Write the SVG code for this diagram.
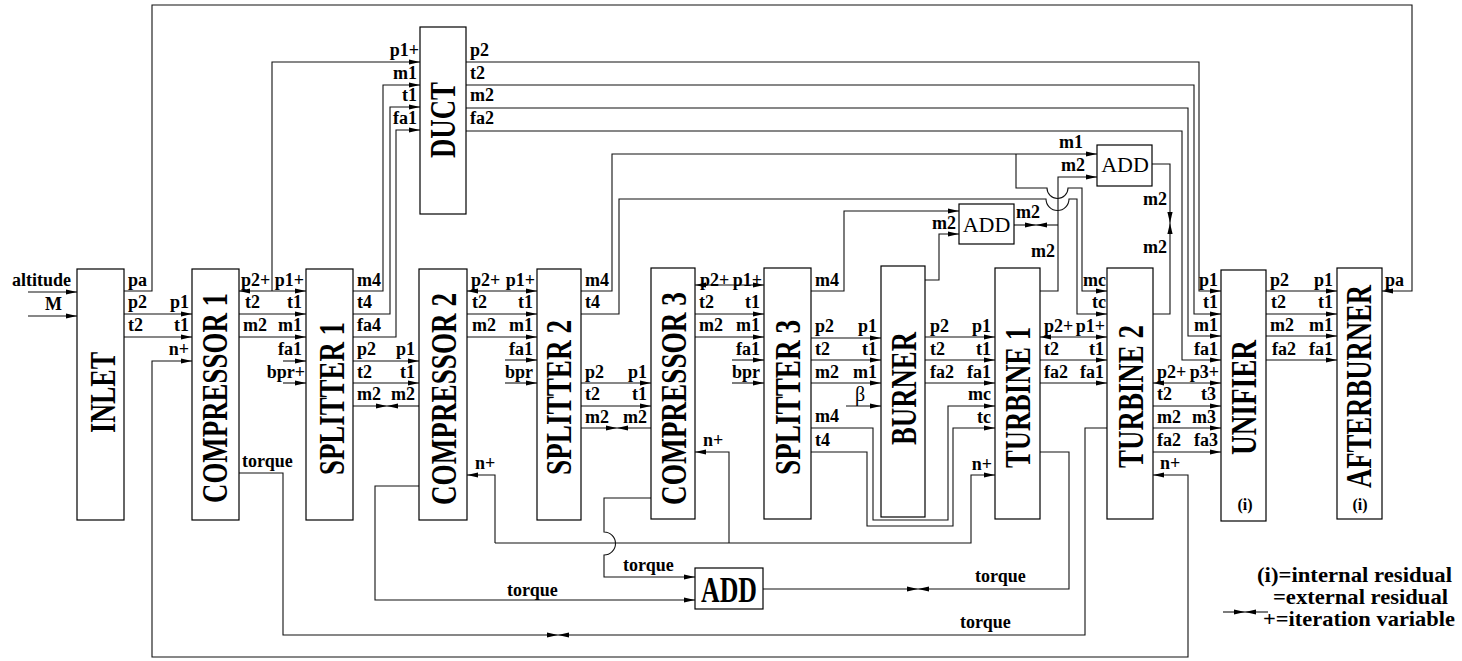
<svg xmlns="http://www.w3.org/2000/svg" width="1462" height="661" viewBox="0 0 1462 661">
<style>
.box{fill:#fff;stroke:#000;stroke-width:1.2}
.ln{fill:none;stroke:#111;stroke-width:1.1}
.a{marker-end:url(#ah)}
.b{marker-start:url(#ah);marker-end:url(#ah)}
text{font-family:"Liberation Serif","Times New Roman",serif;fill:#000}
.pl{font-weight:bold;font-size:18px}
.r{text-anchor:end}
.nl{font-weight:bold;font-size:36px;text-anchor:middle}
.add{font-size:22px;text-anchor:middle}
.leg{font-weight:bold;font-size:21px}
.ii{font-weight:bold;font-size:16px;text-anchor:middle}
</style>
<defs>
<marker id="ah" markerUnits="userSpaceOnUse" markerWidth="11" markerHeight="6" refX="11" refY="3" orient="auto-start-reverse"><path d="M0,0.4L11,3L0,5.6z" fill="#000"/></marker>
</defs>
<rect width="1462" height="661" fill="#fff"/>

<g id="connectors">
<path class="ln a" d="M28,292H77"/>
<path class="ln a" d="M28,316H77"/>
<path class="ln a" d="M124,291H152V5H1412V291H1382"/>
<path class="ln a" d="M124,314H192"/>
<path class="ln a" d="M124,337H192"/>
<path class="ln b" d="M192,361H152V657H1188V475H1153"/>
<path class="ln b" d="M239,291H306"/>
<path class="ln a" d="M272,291V62H420"/>
<path class="ln a" d="M239,314H306"/>
<path class="ln a" d="M239,337H306"/>
<path class="ln a" d="M283,361H306"/>
<path class="ln a" d="M283,383H306"/>
<path class="ln a" d="M239,473H283V635H558"/>
<path class="ln a" d="M1107,428H1085V635H558"/>
<path class="ln a" d="M353,291H383V85H420"/>
<path class="ln a" d="M353,314H390V107H420"/>
<path class="ln a" d="M353,337H396V130H420"/>
<path class="ln a" d="M353,361H419"/>
<path class="ln a" d="M353,383H419"/>
<path class="ln a" d="M353,406H387"/>
<path class="ln a" d="M419,406H387"/>
<path class="ln a" d="M466,62H1199V291H1221"/>
<path class="ln a" d="M466,85H1194V314H1221"/>
<path class="ln a" d="M466,108H1188V336H1221"/>
<path class="ln a" d="M466,131H1182V360H1221"/>
<path class="ln b" d="M467,291H537"/>
<path class="ln a" d="M467,314H537"/>
<path class="ln a" d="M467,337H537"/>
<path class="ln a" d="M505,360H537"/>
<path class="ln a" d="M505,383H537"/>
<path class="ln a" d="M419,486H375V600H695"/>
<path class="ln a" d="M495,543V475H467"/>
<path class="ln a" d="M495,543H971V475H995"/>
<path class="ln a" d="M729,543V452H695"/>
<path class="ln a" d="M581,291H612V154H1097"/>
<path class="ln a" d="M1016,154V188H1047A10.5,10.5 0 0 0 1068,188H1082V291H1107"/>
<path class="ln a" d="M581,314H619V199H1046A11.5,11.5 0 0 0 1069,199H1077V314H1107"/>
<path class="ln a" d="M581,383H651"/>
<path class="ln a" d="M581,406H651"/>
<path class="ln a" d="M581,428H617"/>
<path class="ln a" d="M651,428H617"/>
<path class="ln b" d="M695,285H764"/>
<path class="ln a" d="M695,314H764"/>
<path class="ln a" d="M695,337H764"/>
<path class="ln a" d="M732,360H764"/>
<path class="ln a" d="M732,383H764"/>
<path class="ln a" d="M651,498H604V532A11.5,11.5 0 0 1 604,555V577H695"/>
<path class="ln a" d="M811,291H844V211H959"/>
<path class="ln a" d="M811,338H881"/>
<path class="ln a" d="M811,360H881"/>
<path class="ln a" d="M811,383H881"/>
<path class="ln a" d="M846,406H881"/>
<path class="ln a" d="M811,428H873V520H948V406H995"/>
<path class="ln a" d="M811,452H867V526H953V428H995"/>
<path class="ln a" d="M925,280H939V234H959"/>
<path class="ln a" d="M925,337H995"/>
<path class="ln a" d="M925,360H995"/>
<path class="ln a" d="M925,383H995"/>
<path class="ln a" d="M1014,225H1036"/>
<path class="ln a" d="M1058,225H1036"/>
<path class="ln a" d="M1040,291H1058V177H1097"/>
<path class="ln b" d="M1040,337H1107"/>
<path class="ln a" d="M1040,360H1107"/>
<path class="ln a" d="M1040,383H1107"/>
<path class="ln a" d="M1040,452H1069V589H918"/>
<path class="ln a" d="M763,589H918"/>
<path class="ln a" d="M1152,164H1170V223"/>
<path class="ln a" d="M1153,314H1170V223"/>
<path class="ln b" d="M1153,383H1221"/>
<path class="ln a" d="M1153,406H1221"/>
<path class="ln a" d="M1153,428H1221"/>
<path class="ln a" d="M1153,452H1221"/>
<path class="ln a" d="M1266,291H1337"/>
<path class="ln a" d="M1266,314H1337"/>
<path class="ln a" d="M1266,336H1337"/>
<path class="ln a" d="M1266,360H1337"/>
</g>

<g id="inlet"><rect class="box" x="77" y="269" width="47" height="251"/><text class="nl" transform="translate(115,392.5) rotate(-90)" textLength="81" lengthAdjust="spacingAndGlyphs">INLET</text></g>
<g id="compressor1"><rect class="box" x="192" y="269" width="47" height="251"/><text class="nl" transform="translate(227,398) rotate(-90)" textLength="210" lengthAdjust="spacingAndGlyphs">COMPRESSOR 1</text></g>
<g id="splitter1"><rect class="box" x="306" y="269" width="47" height="251"/><text class="nl" transform="translate(344,398.5) rotate(-90)" textLength="153" lengthAdjust="spacingAndGlyphs">SPLITTER 1</text></g>
<g id="compressor2"><rect class="box" x="419" y="269" width="48" height="251"/><text class="nl" transform="translate(456,399) rotate(-90)" textLength="212" lengthAdjust="spacingAndGlyphs">COMPRESSOR 2</text></g>
<g id="splitter2"><rect class="box" x="537" y="269" width="44" height="251"/><text class="nl" transform="translate(571,397.5) rotate(-90)" textLength="155" lengthAdjust="spacingAndGlyphs">SPLITTER 2</text></g>
<g id="compressor3"><rect class="box" x="651" y="268" width="44" height="251"/><text class="nl" transform="translate(686,398.5) rotate(-90)" textLength="213" lengthAdjust="spacingAndGlyphs">COMPRESSOR 3</text></g>
<g id="splitter3"><rect class="box" x="764" y="268" width="47" height="251"/><text class="nl" transform="translate(800,397.5) rotate(-90)" textLength="155" lengthAdjust="spacingAndGlyphs">SPLITTER 3</text></g>
<g id="burner"><rect class="box" x="881" y="266" width="44" height="251"/><text class="nl" transform="translate(916,388.5) rotate(-90)" textLength="113" lengthAdjust="spacingAndGlyphs">BURNER</text></g>
<g id="turbine1"><rect class="box" x="995" y="268" width="45" height="251"/><text class="nl" transform="translate(1030,397.5) rotate(-90)" textLength="141" lengthAdjust="spacingAndGlyphs">TURBINE 1</text></g>
<g id="turbine2"><rect class="box" x="1107" y="268" width="46" height="251"/><text class="nl" transform="translate(1143,396.5) rotate(-90)" textLength="143" lengthAdjust="spacingAndGlyphs">TURBINE 2</text></g>
<g id="unifier"><rect class="box" x="1221" y="270" width="45" height="251"/><text class="nl" transform="translate(1256,397.5) rotate(-90)" textLength="115" lengthAdjust="spacingAndGlyphs">UNIFIER</text><text class="ii" x="1245" y="510">(i)</text></g>
<g id="afterburner"><rect class="box" x="1337" y="268" width="45" height="251"/><text class="nl" transform="translate(1371,386.5) rotate(-90)" textLength="203" lengthAdjust="spacingAndGlyphs">AFTERBURNER</text><text class="ii" x="1360" y="510">(i)</text></g>
<g id="duct"><rect class="box" x="420" y="27" width="46" height="187"/><text class="nl" transform="translate(455,120) rotate(-90)" textLength="76" lengthAdjust="spacingAndGlyphs">DUCT</text></g>
<g id="add1"><rect class="box" x="959" y="204" width="55" height="40"/><text class="add" x="986.5" y="232">ADD</text></g>
<g id="add2"><rect class="box" x="1097" y="145" width="55" height="41"/><text class="add" x="1125" y="172">ADD</text></g>
<g id="add3"><rect class="box" x="695" y="568" width="68" height="41"/><text class="nl" x="729" y="602" textLength="56" lengthAdjust="spacingAndGlyphs">ADD</text></g>

<g id="labels">
<text class="pl" x="12" y="286">altitude</text>
<text class="pl" x="45" y="310">M</text>
<text class="pl" x="128" y="286">pa</text>
<text class="pl" x="128" y="308">p2</text>
<text class="pl" x="128" y="331">t2</text>
<text class="pl r" x="189" y="308">p1</text>
<text class="pl r" x="189" y="331">t1</text>
<text class="pl r" x="189" y="355">n+</text>

<text class="pl" x="241" y="286">p2+</text>
<text class="pl r" x="304" y="286">p1+</text>
<text class="pl" x="245" y="308">t2</text>
<text class="pl r" x="302" y="308">t1</text>
<text class="pl" x="243" y="331">m2</text>
<text class="pl r" x="302" y="331">m1</text>
<text class="pl r" x="302" y="355">fa1</text>
<text class="pl r" x="305" y="378">bpr+</text>
<text class="pl" x="242" y="467">torque</text>

<text class="pl" x="357" y="286">m4</text>
<text class="pl" x="357" y="308">t4</text>
<text class="pl" x="357" y="331">fa4</text>
<text class="pl" x="357" y="355">p2</text>
<text class="pl" x="357" y="378">t2</text>
<text class="pl" x="357" y="400">m2</text>
<text class="pl r" x="415" y="355">p1</text>
<text class="pl r" x="415" y="378">t1</text>
<text class="pl r" x="415" y="400">m2</text>

<text class="pl r" x="419" y="56">p1+</text>
<text class="pl r" x="417" y="79">m1</text>
<text class="pl r" x="417" y="101">t1</text>
<text class="pl r" x="417" y="124">fa1</text>
<text class="pl" x="470" y="56">p2</text>
<text class="pl" x="470" y="79">t2</text>
<text class="pl" x="470" y="101">m2</text>
<text class="pl" x="470" y="124">fa2</text>

<text class="pl" x="471" y="286">p2+</text>
<text class="pl r" x="535" y="286">p1+</text>
<text class="pl" x="472" y="308">t2</text>
<text class="pl r" x="533" y="308">t1</text>
<text class="pl" x="472" y="331">m2</text>
<text class="pl r" x="533" y="331">m1</text>
<text class="pl r" x="533" y="355">fa1</text>
<text class="pl r" x="533" y="378">bpr</text>
<text class="pl" x="475" y="469">n+</text>
<text class="pl" x="507" y="596">torque</text>

<text class="pl" x="585" y="286">m4</text>
<text class="pl" x="585" y="308">t4</text>
<text class="pl" x="585" y="378">p2</text>
<text class="pl" x="585" y="400">t2</text>
<text class="pl" x="585" y="423">m2</text>
<text class="pl r" x="647" y="378">p1</text>
<text class="pl r" x="647" y="400">t1</text>
<text class="pl r" x="647" y="423">m2</text>

<text class="pl" x="700" y="286">p2+</text>
<text class="pl r" x="762" y="286">p1+</text>
<text class="pl" x="699" y="308">t2</text>
<text class="pl r" x="760" y="308">t1</text>
<text class="pl" x="699" y="331">m2</text>
<text class="pl r" x="760" y="331">m1</text>
<text class="pl r" x="760" y="355">fa1</text>
<text class="pl r" x="760" y="378">bpr</text>
<text class="pl" x="703" y="446">n+</text>
<text class="pl" x="623" y="571">torque</text>

<text class="pl" x="815" y="286">m4</text>
<text class="pl" x="815" y="332">p2</text>
<text class="pl" x="815" y="355">t2</text>
<text class="pl" x="815" y="378">m2</text>
<text class="pl" x="815" y="422">m4</text>
<text class="pl" x="815" y="446">t4</text>
<text class="pl r" x="877" y="332">p1</text>
<text class="pl r" x="877" y="355">t1</text>
<text class="pl r" x="877" y="378">m1</text>
<text x="855" y="401" style="font-size:20px">β</text>

<text class="pl r" x="956" y="229">m2</text>
<text class="pl" x="930" y="332">p2</text>
<text class="pl" x="930" y="355">t2</text>
<text class="pl" x="930" y="378">fa2</text>
<text class="pl r" x="991" y="332">p1</text>
<text class="pl r" x="991" y="355">t1</text>
<text class="pl r" x="991" y="378">fa1</text>
<text class="pl r" x="991" y="400">mc</text>
<text class="pl r" x="991" y="423">tc</text>
<text class="pl r" x="992" y="470">n+</text>

<text class="pl" x="1016" y="218">m2</text>
<text class="pl r" x="1055" y="257">m2</text>
<text class="pl r" x="1083" y="148">m1</text>
<text class="pl r" x="1085" y="171">m2</text>
<text class="pl r" x="1167" y="205">m2</text>
<text class="pl r" x="1167" y="253">m2</text>

<text class="pl" x="1044" y="332">p2+</text>
<text class="pl r" x="1105" y="332">p1+</text>
<text class="pl" x="1044" y="355">t2</text>
<text class="pl r" x="1104" y="355">t1</text>
<text class="pl" x="1044" y="378">fa2</text>
<text class="pl r" x="1104" y="378">fa1</text>
<text class="pl r" x="1106" y="286">mc</text>
<text class="pl r" x="1106" y="308">tc</text>
<text class="pl" x="975" y="582">torque</text>
<text class="pl" x="960" y="628">torque</text>

<text class="pl" x="1157" y="378">p2+</text>
<text class="pl r" x="1219" y="378">p3+</text>
<text class="pl" x="1157" y="400">t2</text>
<text class="pl r" x="1216" y="400">t3</text>
<text class="pl" x="1157" y="423">m2</text>
<text class="pl r" x="1216" y="423">m3</text>
<text class="pl" x="1157" y="446">fa2</text>
<text class="pl r" x="1218" y="446">fa3</text>
<text class="pl" x="1160" y="469">n+</text>

<text class="pl r" x="1218" y="286">p1</text>
<text class="pl r" x="1218" y="308">t1</text>
<text class="pl r" x="1218" y="331">m1</text>
<text class="pl r" x="1218" y="355">fa1</text>
<text class="pl" x="1270" y="286">p2</text>
<text class="pl r" x="1333" y="286">p1</text>
<text class="pl" x="1271" y="308">t2</text>
<text class="pl r" x="1333" y="308">t1</text>
<text class="pl" x="1270" y="331">m2</text>
<text class="pl r" x="1333" y="331">m1</text>
<text class="pl" x="1272" y="355">fa2</text>
<text class="pl r" x="1333" y="355">fa1</text>
<text class="pl" x="1385" y="286">pa</text>
</g>

<g id="legend">
<path class="ln a" d="M1223,612H1245"/>
<path class="ln a" d="M1268,612H1245"/>
<text class="leg" x="1257" y="582" textLength="195" lengthAdjust="spacingAndGlyphs">(i)=internal residual</text>
<text class="leg" x="1273" y="604" textLength="175" lengthAdjust="spacingAndGlyphs">=external residual</text>
<text class="leg" x="1263" y="626" textLength="192" lengthAdjust="spacingAndGlyphs">+=iteration variable</text>
</g>
</svg>
